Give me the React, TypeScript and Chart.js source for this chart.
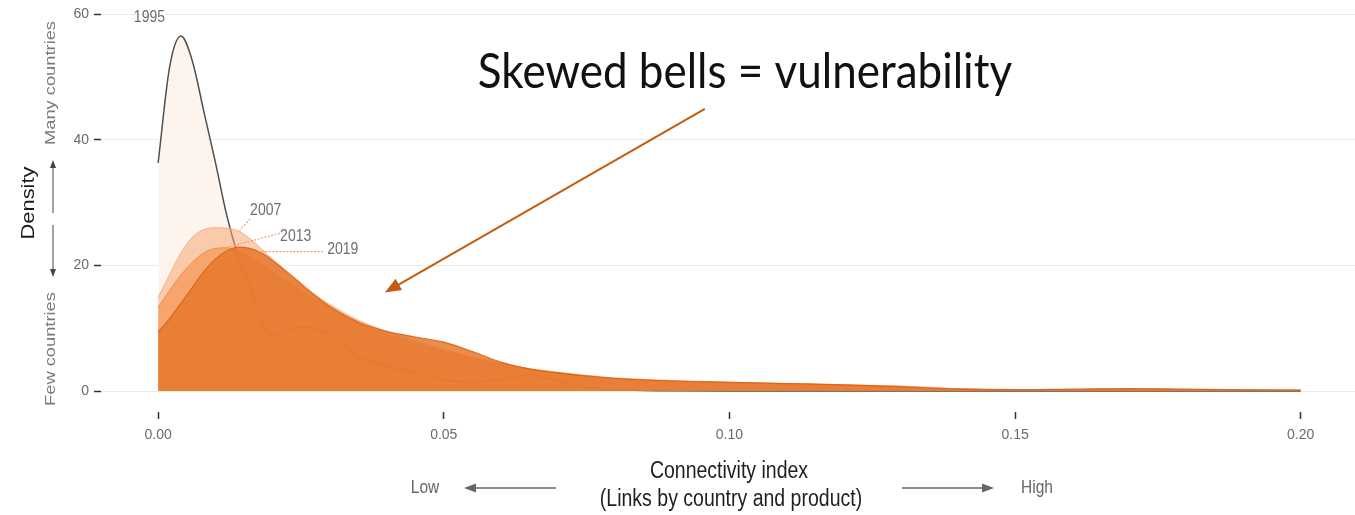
import React, { useEffect, useRef } from "react";
import { Chart, registerables } from "chart.js";

Chart.register(...registerables);

// Connectivity index (x) sample points
const connectivity = [
  0, 0.002, 0.004, 0.006, 0.008, 0.01, 0.012, 0.014, 0.016, 0.018, 0.02, 0.022, 0.024, 0.026, 0.028, 0.03,
  0.035, 0.04, 0.045, 0.05, 0.055, 0.06, 0.065, 0.07, 0.075, 0.08, 0.09, 0.1, 0.11, 0.12, 0.13, 0.14, 0.15,
  0.16, 0.17, 0.18, 0.19, 0.2,
];

const density1995 = [
  36.3, 51.5, 56.5, 52.5, 44.5, 36.5, 28, 21.5, 16.5, 11, 8.7, 9.5, 10.1, 10.2, 9.8, 9.0,
  5.5, 4.0, 3.0, 1.8, 1.4, 1.9, 2.5, 1.6, 0.6, 0.2, 0.05, 0, 0, 0, 0, 0, 0,
  0, 0, 0, 0, 0,
];

const density2007 = [
  14.9, 18.5, 22, 24.5, 25.7, 26, 25.9, 25.5, 24.3, 22.7, 21, 19.5, 18, 16.5, 15.0, 13.8,
  11.3, 9.5, 8.0, 6.6, 5.4, 4.4, 3.6, 3.0, 2.5, 2.1, 1.7, 1.4, 1.2, 1.0, 0.8, 0.4, 0.25,
  0.25, 0.3, 0.25, 0.2, 0.15,
];

const density2013 = [
  13.3, 16, 18.5, 20.5, 22, 22.7, 22.8, 22.3, 21.3, 20.2, 19, 17.8, 16.6, 15.4, 14.3, 13.2,
  10.8, 9.0, 7.6, 6.3, 5.2, 4.3, 3.5, 2.9, 2.4, 2.0, 1.6, 1.3, 1.1, 0.9, 0.6, 0.35, 0.25,
  0.25, 0.3, 0.25, 0.2, 0.15,
];

const density2019 = [
  9.4, 11.5, 14, 16.5, 19, 21, 22.3, 22.9, 22.7, 22, 20.8, 19.3, 17.8, 16.2, 14.8, 13.5,
  11.0, 9.5, 8.6, 7.8, 6.3, 4.6, 3.5, 2.9, 2.4, 2.0, 1.6, 1.4, 1.2, 1.0, 0.7, 0.3, 0.2,
  0.3, 0.4, 0.3, 0.2, 0.15,
];

const years = ["1995", "2007", "2013", "2019"];
const xTicks = [0, 0.05, 0.1, 0.15, 0.2];
const yTicks = [0, 20, 40, 60];

const FONT = '"Liberation Sans", Arial, Helvetica, sans-serif';
const STRETCH = 1.18;

export default function App() {
  const ref = useRef<HTMLCanvasElement>(null);

  useEffect(() => {
    document.body.style.margin = "0";
    const canvas = ref.current!;
    const pts = (arr: number[]) => connectivity.map((x, i) => ({ x, y: arr[i] }));

    // label anchors in data space [x, y]
    const labelPos: Record<string, [number, number]> = {
      "1995": [0.0012, 59.4],
      "2007": [0.0161, 28.7],
      "2013": [0.02135, 24.6],
      "2019": [0.0296, 22.5],
    };
    const leaders: Record<string, [number, number, number, number]> = {
      "2007": [0.0161, 27.4, 0.0143, 25.6],
      "2013": [0.0213, 25.1, 0.0114, 22.7],
      "2019": [0.0289, 22.2, 0.0178, 22.2],
    };

    const overlay = {
      id: "overlay",
      afterDraw(chart: any) {
        const { ctx, scales } = chart;
        const xs = scales.x;
        const ys = scales.y;
        const px = (v: number) => xs.getPixelForValue(v);
        const py = (v: number) => ys.getPixelForValue(v);
        ctx.save();

        const text = (s: string, x: number, y: number, font: string, color: string, align: string, rot = 0, k = STRETCH) => {
          ctx.save();
          ctx.translate(x, y);
          if (rot) ctx.rotate(rot);
          if (rot) ctx.scale(k, 1);
          else ctx.scale(1, k);
          ctx.font = font;
          ctx.fillStyle = color;
          ctx.textAlign = align;
          ctx.textBaseline = "middle";
          ctx.fillText(s, 0, 0);
          ctx.restore();
        };

        // leader lines
        ctx.strokeStyle = "#f2a06a";
        ctx.lineWidth = 1.2;
        ctx.setLineDash([2, 1.5]);
        Object.keys(leaders).forEach((k) => {
          const [x1, y1, x2, y2] = leaders[k];
          ctx.beginPath();
          ctx.moveTo(px(x1), py(y1));
          ctx.lineTo(px(x2), py(y2));
          ctx.stroke();
        });
        ctx.setLineDash([]);

        // year labels
        years.forEach((yr) => {
          const [lx, ly] = labelPos[yr];
          text(yr, px(lx), py(ly), `14px ${FONT}`, "#6e6e6e", yr === "1995" ? "right" : "left");
        });

        // y-axis title & side labels
        text("Density", 29, 203, `18.5px ${FONT}`, "#1a1a1a", "center", -Math.PI / 2);
        text("Many countries", 51, 83, `15.5px ${FONT}`, "#7a7a7a", "center", -Math.PI / 2);
        text("Few countries", 51, 349, `15.5px ${FONT}`, "#7a7a7a", "center", -Math.PI / 2);

        const arrow = (x1: number, y1: number, x2: number, y2: number, color: string, lw: number, hl: number, hw: number) => {
          const ang = Math.atan2(y2 - y1, x2 - x1);
          ctx.strokeStyle = color;
          ctx.fillStyle = color;
          ctx.lineWidth = lw;
          ctx.beginPath();
          ctx.moveTo(x1, y1);
          ctx.lineTo(x2 - Math.cos(ang) * hl * 0.8, y2 - Math.sin(ang) * hl * 0.8);
          ctx.stroke();
          ctx.beginPath();
          ctx.moveTo(x2, y2);
          ctx.lineTo(x2 - Math.cos(ang) * hl + Math.sin(ang) * hw / 2, y2 - Math.sin(ang) * hl - Math.cos(ang) * hw / 2);
          ctx.lineTo(x2 - Math.cos(ang) * hl - Math.sin(ang) * hw / 2, y2 - Math.sin(ang) * hl + Math.cos(ang) * hw / 2);
          ctx.closePath();
          ctx.fill();
        };

        // vertical density arrows
        arrow(53, 213, 53, 160, "#444", 1, 8, 6);
        arrow(53, 225, 53, 277, "#444", 1, 8, 6);

        // x-axis title
        text("Connectivity index", 729, 472, `19.5px ${FONT}`, "#1f1f1f", "center");
        text("(Links by country and product)", 731, 500, `19.5px ${FONT}`, "#1f1f1f", "center");
        text("Low", 425, 488, `15.5px ${FONT}`, "#666", "center");
        text("High", 1037, 488, `15.5px ${FONT}`, "#666", "center");
        arrow(556, 488, 464, 488, "#666", 1.6, 12, 9);
        arrow(902, 488, 994, 488, "#666", 1.6, 12, 9);

        // annotation
        ctx.save();
        ctx.translate(745, 88);
        ctx.scale(1, 1.1);
        ctx.font = `44px Lato, "Open Sans", sans-serif`;
        ctx.fillStyle = "#111";
        ctx.textAlign = "center";
        ctx.textBaseline = "alphabetic";
        ctx.fillText("Skewed bells = vulnerability", 0, 0);
        ctx.restore();
        arrow(px(0.0957), py(44.9), px(0.0397), py(15.7), "#c55a11", 2, 16, 13);

        ctx.restore();
      },
    };

    const chart = new Chart(canvas, {
      type: "line",
      data: {
        datasets: [
          {
            label: years[0],
            data: pts(density1995),
            borderColor: "#4f4f4f",
            borderWidth: 1.5,
            backgroundColor: "rgba(253,243,236,0.9)",
            fill: "origin",
            order: 4,
          },
          {
            label: years[1],
            data: pts(density2007),
            borderColor: "rgba(246,170,120,0.9)",
            borderWidth: 1,
            backgroundColor: "rgba(248,170,115,0.55)",
            fill: "origin",
            order: 3,
          },
          {
            label: years[2],
            data: pts(density2013),
            borderColor: "rgba(238,135,65,0.9)",
            borderWidth: 1,
            backgroundColor: "rgba(245,140,70,0.6)",
            fill: "origin",
            order: 2,
          },
          {
            label: years[3],
            data: pts(density2019),
            borderColor: "rgba(214,100,25,0.9)",
            borderWidth: 1.2,
            backgroundColor: "rgba(230,120,45,0.85)",
            fill: "origin",
            order: 1,
          },
        ],
      },
      options: {
        animation: false,
        responsive: false,
        devicePixelRatio: 1,
        layout: { padding: 0 },
        elements: {
          point: { radius: 0, hoverRadius: 0 },
          line: { cubicInterpolationMode: "monotone" },
        },
        plugins: {
          legend: { display: false },
          tooltip: { enabled: false },
        },
        scales: {
          x: {
            type: "linear",
            min: -0.01,
            max: 0.2095,
            afterBuildTicks: (s: any) => {
              s.ticks = xTicks.map((v) => ({ value: v }));
            },
            afterFit: (s: any) => {
              s.height = 103;
            },
            grid: { drawOnChartArea: false, drawTicks: true, tickLength: 7, tickColor: "#333", tickWidth: 1.5 },
            border: { display: false },
            ticks: {
              padding: 8,
              color: "#6b6b6b",
              font: { family: FONT, size: 14 },
              maxRotation: 0,
              callback: (v: any) => Number(v).toFixed(2),
            },
          },
          y: {
            type: "linear",
            min: -3.33,
            max: 60.1,
            afterBuildTicks: (s: any) => {
              s.ticks = yTicks.map((v) => ({ value: v }));
            },
            afterFit: (s: any) => {
              s.width = 101;
            },
            grid: { color: "#ebebeb", lineWidth: 1, drawTicks: true, tickLength: 7, tickColor: "#333", tickWidth: 1.5 },
            border: { display: false },
            ticks: {
              padding: 5,
              color: "#6b6b6b",
              font: { family: FONT, size: 14 },
              callback: (v: any) => String(v),
            },
          },
        },
      },
      plugins: [overlay],
    } as any);

    return () => chart.destroy();
  }, []);

  return (
    <div style={{ width: 1355, height: 515, background: "#fff" }}>
      <canvas ref={ref} width={1355} height={515} style={{ display: "block", width: 1355, height: 515 }} />
    </div>
  );
}
